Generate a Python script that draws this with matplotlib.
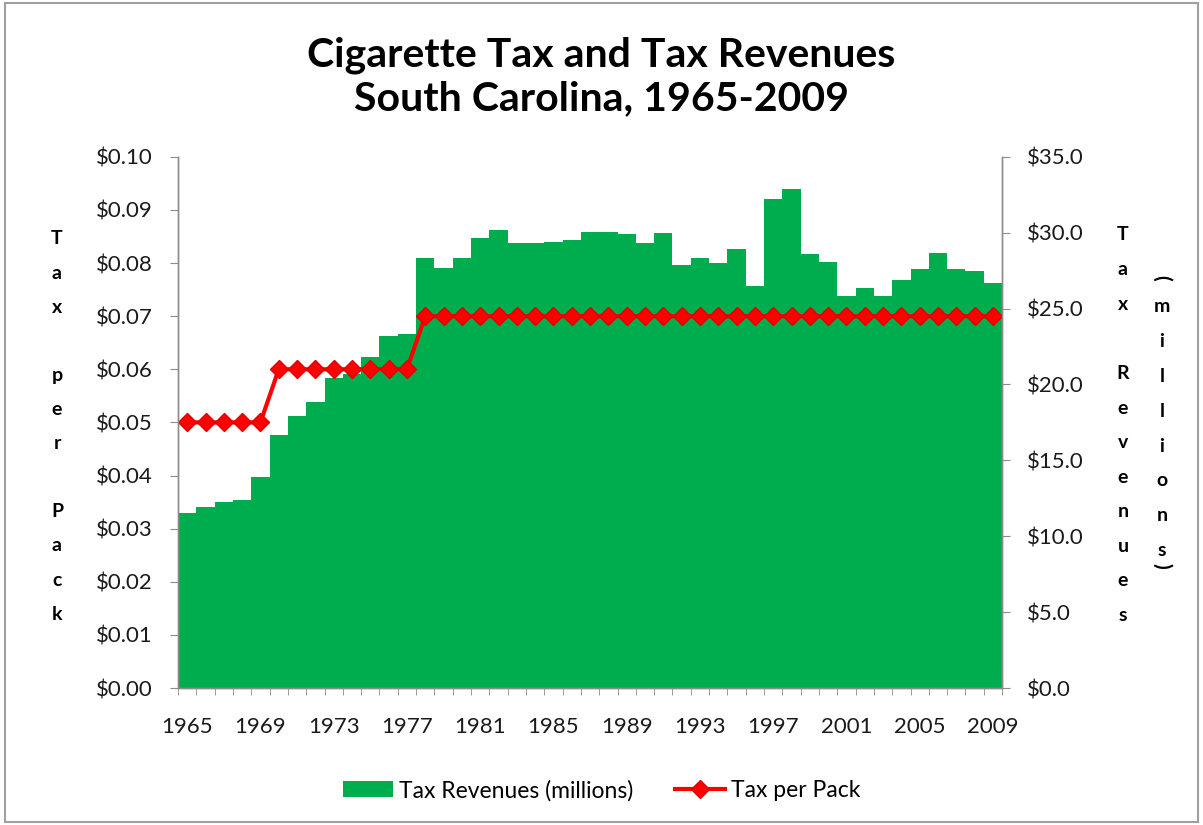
import numpy as np
import matplotlib.pyplot as plt
from matplotlib.patches import Rectangle
from matplotlib.ticker import FuncFormatter, MultipleLocator

plt.rcParams['font.family'] = ['Lato', 'DejaVu Sans']

years = list(range(1965, 2010))
# revenues in millions of dollars
revenues = [11.5, 11.9, 12.25, 12.4, 13.9, 16.7, 17.9, 18.85, 20.45, 20.7,
            21.8, 23.2, 23.35, 28.3, 27.7, 28.35, 29.65, 30.15, 29.35, 29.35,
            29.4, 29.5, 30.05, 30.05, 29.9, 29.35, 29.95, 27.85, 28.35, 28.0,
            28.95, 26.5, 32.2, 32.9, 28.6, 28.05, 25.8, 26.35, 25.8, 26.85,
            27.6, 28.65, 27.6, 27.5, 26.7]
tax_per_pack = [0.05] * 5 + [0.06] * 8 + [0.07] * 32
year_labels = list(range(1965, 2010, 4))

green = '#00AD4E'
red = '#FF0000'
grey = '#8C8C8C'
W, H = 1203, 825

fig = plt.figure(figsize=(12.03, 8.25), dpi=100)
ax = fig.add_axes([0.148, 0.166, 0.685, 0.644])
ax2 = ax.twinx()

# revenues on the right axis
ax2.bar(years, revenues, width=1.0, color=green, linewidth=0, label='Tax Revenues (millions)')
ax2.set_ylim(0, 35)
ax2.yaxis.set_major_locator(MultipleLocator(5))
ax2.yaxis.set_major_formatter(FuncFormatter(lambda v, p: '${:.1f}'.format(v)))

# tax per pack on the left axis, drawn on top
ax.plot(years, tax_per_pack, color=red, lw=3, marker='D', markersize=9.5,
        markeredgecolor='#E00000', label='Tax per Pack')
ax.set_ylim(0, 0.10)
ax.yaxis.set_major_locator(MultipleLocator(0.01))
ax.yaxis.set_major_formatter(FuncFormatter(lambda v, p: '${:.2f}'.format(v)))
ax.set_zorder(ax2.get_zorder() + 1)
ax.patch.set_visible(False)

ax.set_xlim(1964.5, 2009.5)
ax.set_xticks(year_labels)
ax.set_xticks(np.arange(1964.5, 2010, 1), minor=True)
ax.tick_params(axis='x', which='major', length=0, pad=21)
ax.tick_params(axis='x', which='minor', length=5, color=grey, direction='out')

for a in (ax, ax2):
    a.tick_params(axis='y', length=6, color=grey, labelsize=16, pad=12, labelcolor='#1a1a1a')
    a.tick_params(axis='x', labelsize=16, labelcolor='#1a1a1a')
    a.spines['top'].set_visible(False)
    for s in ('left', 'right', 'bottom'):
        a.spines[s].set_color(grey)
        a.spines[s].set_linewidth(1)

fig.text(0.5, 0.907, 'Cigarette Tax and Tax Revenues\nSouth Carolina, 1965-2009',
         ha='center', va='center', fontsize=29.5, fontweight='bold', linespacing=1.2)

# stacked axis titles, one letter per row
def stacked(word, x, top, step):
    for i, ch in enumerate(word):
        if ch != ' ':
            fig.text(x / W, 1 - (top + i * step) / H, ch, ha='center', va='center',
                     fontsize=14, fontweight='bold')

stacked('Tax per Pack', 57, 239, 34.1)
stacked('Tax Revenues', 1123, 235, 34.6)
stacked('millions', 1162, 307, 34.8)
fig.text(1162 / W, 1 - 278 / H, '(', ha='center', va='center', fontsize=15, rotation=-90, fontweight='bold')
fig.text(1162 / W, 1 - 566 / H, ')', ha='center', va='center', fontsize=15, rotation=-90, fontweight='bold')

h1, l1 = ax2.get_legend_handles_labels()
h2, l2 = ax.get_legend_handles_labels()
fig.legend(h1 + h2, l1 + l2, loc='center', bbox_to_anchor=(0.5, 0.042), ncol=2,
           frameon=False, fontsize=16.5, handlelength=2.2, handletextpad=0.25,
           columnspacing=1.8)

fig.patches.append(Rectangle((0.004, 0.004), 0.992, 0.992, transform=fig.transFigure,
                             fill=False, edgecolor='#A0A0A0', lw=1.5))

fig.savefig('out.png', dpi=100)
